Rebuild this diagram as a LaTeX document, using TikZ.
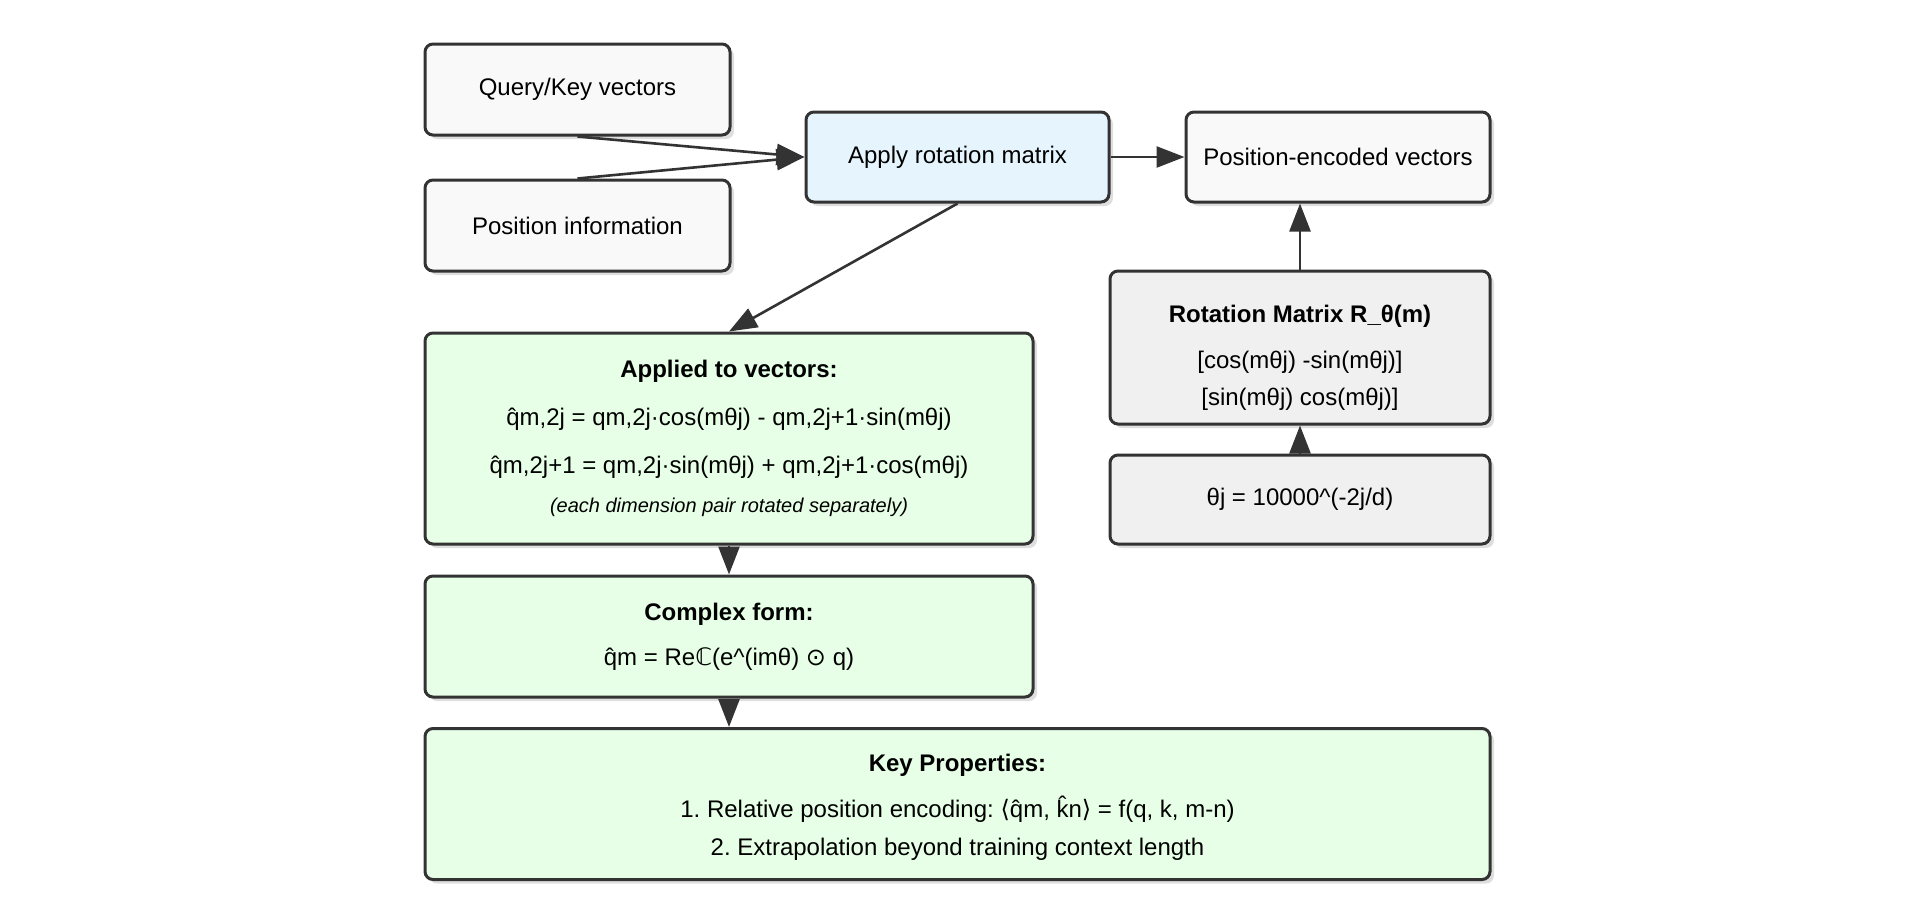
\documentclass[tikz,border=0pt]{standalone}
\usepackage{fontspec}
\setmainfont{Liberation Sans}
\newfontfamily\symfont{DejaVu Sans}
\definecolor{rpInk}{HTML}{333333}
\definecolor{rpLight}{HTML}{F9F9F9}
\definecolor{rpGrey}{HTML}{F0F0F0}
\definecolor{rpBlue}{HTML}{E6F5FD}
\definecolor{rpGreen}{HTML}{E6FFE6}
\usetikzlibrary{calc,positioning,arrows.meta,shadows}
\frenchspacing

\begin{document}
\begin{tikzpicture}[x=1pt,y=-1pt,
  card/.style={draw=rpInk, line width=3pt, rounded corners=8pt, align=center, inner sep=0pt,
    font=\fontsize{24}{29}\selectfont,
    drop shadow={shadow xshift=4pt, shadow yshift=-4pt, fill=black, opacity=0.13}},
  link/.style={draw=rpInk, line width=2.6pt, -{Triangle[length=28pt,width=21pt]}}]
  \useasboundingbox (0,0) rectangle (1917,903);

  \node[card, fill=rpLight, minimum width=305pt, minimum height=91pt] (qk) at (577.5,89.5) {Query/Key vectors};
  \node[card, fill=rpLight, minimum width=305pt, minimum height=91pt] (pos) at (577.5,225.5) {Position information};
  \node[card, fill=rpBlue, minimum width=303pt, minimum height=90pt] (apply) at (957.5,157) {Apply rotation matrix};
  \node[card, fill=rpLight, minimum width=304pt, minimum height=90pt] (enc) at (1338,157) {Position-encoded vectors};
  \node[card, fill=rpGrey, minimum width=380pt, minimum height=153pt] (rot) at (1300,347.5) {%
    \rule{0pt}{38pt}\textbf{Rotation Matrix R\_θ(m)}\\[17pt]
    {[}cos(mθj) -sin(mθj)]\\[8pt]
    {[}sin(mθj) cos(mθj)]};
  \node[card, fill=rpGrey, minimum width=380pt, minimum height=89pt] (theta) at (1300,499.5) {θj = 10000\textasciicircum(-2j/d)};
  \node[card, fill=rpGreen, minimum width=608pt, minimum height=211pt] (appl) at (729,438.5) {%
    \textbf{Applied to vectors:}\\[19pt]
    q̂m,2j = qm,2j·cos(mθj) - qm,2j+1·sin(mθj)\\[19pt]
    q̂m,2j+1 = qm,2j·sin(mθj) + qm,2j+1·cos(mθj)\\[10pt]
    {\fontsize{20}{24}\selectfont\itshape (each dimension pair rotated separately)}};
  \node[card, fill=rpGreen, minimum width=608pt, minimum height=121pt] (cplx) at (729,636.5) {%
    \textbf{Complex form:}\\[16pt]
    q̂m = Re{\symfont ℂ}(e\textasciicircum(imθ) {\symfont ⊙} q)};
  \node[card, fill=rpGreen, minimum width=1065pt, minimum height=151pt] (key) at (957.5,804) {%
    \rule{0pt}{24pt}\textbf{Key Properties:}\\[17pt]
    1. Relative position encoding: {\symfont ⟨}q̂m, {\accent"02C6 k}n{\symfont ⟩} = f(q, k, m-n)\\[9pt]
    2. Extrapolation beyond training context length};

  \draw[link] (qk.south) -- (apply.west);
  \draw[link] (pos.north) -- (apply.west);
  \draw[link] (apply.east) -- (enc.west);
  \draw[link] (apply.south) -- (appl.north);
  \draw[link] (rot.north) -- (rot.north |- enc.south);
  \draw[link] (theta.north) -- (rot.south);
  \draw[link] (appl.south) -- (cplx.north);
  \draw[link] (cplx.south) -- (cplx.south |- key.north);
\end{tikzpicture}
\end{document}
